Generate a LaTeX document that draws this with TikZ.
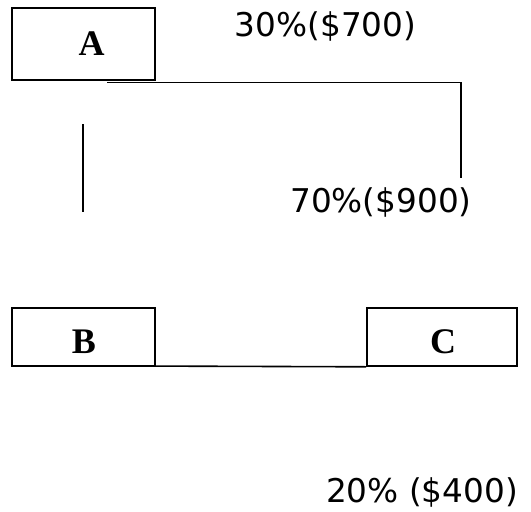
\documentclass[tikz,border=0pt]{standalone}
\usepackage{fontspec}
\newfontfamily\pctfont{DejaVu Sans}
\newfontfamily\letfont{Liberation Serif}
\begin{document}
\begin{tikzpicture}[x=1pt,y=-1pt,
  box/.style={draw=black,line width=1.6pt,inner sep=0pt,minimum width=#1},
  letter/.style={inner sep=0pt,anchor=base,font=\letfont\bfseries\fontsize{36}{40}\selectfont},
  pct/.style={inner sep=0pt,anchor=base,font=\pctfont\fontsize{32.7}{38}\selectfont},
  conn/.style={line width=1.6pt}]
\useasboundingbox (0,0) rectangle (531,512);
% boxes
\node[box=143pt,minimum height=72pt] (A) at (83.5,44) {};
\node[box=143pt,minimum height=58pt] (B) at (83.5,337) {};
\node[box=150pt,minimum height=58pt] (C) at (442,337) {};
% letters
\node[letter] (Al) at (91.5,55) {A};
\node[letter] (Bl) at (84,353.3) {B};
\node[letter] (Cl) at (443,353.3) {C};
% percentages
\node[pct] (p30) at (325.5,36.7) {30\%(\$700)};
\node[pct] (p70) at (381,212.3) {70\%(\$900)};
\node[pct] (p20) at (422,502.7) {20\% (\$400)};
% connectors
\coordinate (a1) at (107,82.3);
\coordinate (a2) at (461,178);
\draw[conn] (a1) -| (a2);
\coordinate (v1) at (83,124);
\coordinate (v2) at (83,212);
\draw[conn] (v1) -- (v2);
\coordinate (b1) at (131,366);
\draw[conn] (b1) -- (C.south west);
\end{tikzpicture}
\end{document}
